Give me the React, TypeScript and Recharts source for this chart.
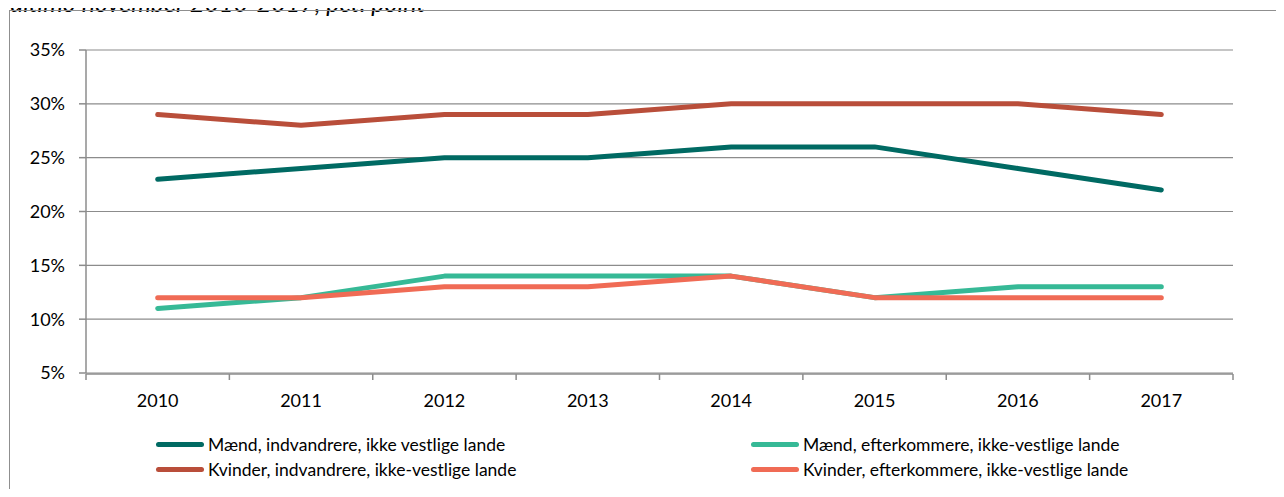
import React from 'react';
import { LineChart, Line, XAxis, YAxis, CartesianGrid } from 'recharts';

const years = ['2010', '2011', '2012', '2013', '2014', '2015', '2016', '2017'];
const maendIndv = [23, 24, 25, 25, 26, 26, 24, 22];
const kvinderIndv = [29, 28, 29, 29, 30, 30, 30, 29];
const maendEfter = [11, 12, 14, 14, 14, 12, 13, 13];
const kvinderEfter = [12, 12, 13, 13, 14, 12, 12, 12];
const yTicks = [5, 10, 15, 20, 25, 30, 35];

const series = [
  { key: 'mi', name: 'Mænd, indvandrere, ikke vestlige lande', color: '#006A63', values: maendIndv },
  { key: 'ki', name: 'Kvinder, indvandrere, ikke-vestlige lande', color: '#B94E3A', values: kvinderIndv },
  { key: 'me', name: 'Mænd, efterkommere, ikke-vestlige lande', color: '#36B996', values: maendEfter },
  { key: 'ke', name: 'Kvinder, efterkommere, ikke-vestlige lande', color: '#F06B55', values: kvinderEfter },
];

// legend is laid out two by two, rows first
const legendRows = [
  ['mi', 'me'],
  ['ki', 'ke'],
];

const data = years.map((year, i) => {
  const row: Record<string, number | string> = { idx: i, year };
  series.forEach((s) => {
    row[s.key] = s.values[i];
  });
  return row;
});

const edgeTicks = years.map((_, i) => i - 0.5).concat([years.length - 0.5]);

const FONT = 'Lato, "Open Sans", sans-serif';
const GRID = '#8c8c8c';

export default function App() {
  const byKey = Object.fromEntries(series.map((s) => [s.key, s]));
  return (
    <div
      style={{
        position: 'relative',
        width: 1284,
        height: 497,
        margin: -8,
        overflow: 'hidden',
        background: '#fff',
        fontFamily: FONT,
      }}
    >
      <div
        style={{
          position: 'absolute',
          left: 10,
          top: -9,
          fontSize: 25,
          lineHeight: '22px',
          fontStyle: 'italic',
          color: '#000',
          whiteSpace: 'nowrap',
        }}
      >
        ultimo november 2010-2017, pct. point
      </div>
      <div
        style={{
          position: 'absolute',
          left: 9,
          top: 10,
          width: 1300,
          height: 600,
          border: '1px solid #8f8f8f',
        }}
      />
      <div style={{ position: 'absolute', left: 0, top: 0 }}>
        <LineChart
          width={1284}
          height={497}
          data={data}
          margin={{ top: 50, right: 51, bottom: 122, left: 26 }}
        >
          <CartesianGrid vertical={false} stroke={GRID} strokeWidth={1.2} />
          <XAxis
            xAxisId="edge"
            dataKey="idx"
            type="number"
            domain={[-0.5, years.length - 0.5]}
            ticks={edgeTicks}
            tickFormatter={() => ''}
            height={1}
            tickSize={6}
            stroke={GRID}
            axisLine={{ stroke: GRID, strokeWidth: 1.5 }}
            tickLine={{ stroke: GRID, strokeWidth: 1.5 }}
            interval={0}
            allowDataOverflow
          />
          <XAxis
            dataKey="idx"
            type="number"
            domain={[-0.5, years.length - 0.5]}
            ticks={years.map((_, i) => i)}
            tickFormatter={(v) => years[v]}
            height={1}
            axisLine={false}
            tickLine={false}
            tickMargin={15}
            interval={0}
            tick={{ fill: '#000', fontSize: 18, fontFamily: FONT }}
            allowDataOverflow
          />
          <YAxis
            width={60}
            domain={[5, 35]}
            ticks={yTicks}
            tickFormatter={(v) => `${v}%`}
            tickSize={7}
            tickMargin={14}
            axisLine={{ stroke: GRID, strokeWidth: 1.5 }}
            tickLine={{ stroke: GRID, strokeWidth: 1.5 }}
            tick={{ fill: '#000', fontSize: 18, fontFamily: FONT }}
            interval={0}
          />
          {series.map((s) => (
            <Line
              key={s.key}
              dataKey={s.key}
              name={s.name}
              type="linear"
              stroke={s.color}
              strokeWidth={5}
              strokeLinecap="round"
              strokeLinejoin="round"
              dot={false}
              activeDot={false}
              isAnimationActive={false}
            />
          ))}
        </LineChart>
      </div>
      {legendRows.map((row, r) =>
        row.map((k, c) => {
          const s = byKey[k];
          return (
            <div
              key={k}
              style={{
                position: 'absolute',
                left: c === 0 ? 156 : 751,
                top: 444 + r * 25 - 11,
                height: 22,
                display: 'flex',
                alignItems: 'center',
                fontSize: 17.5,
                color: '#000',
                whiteSpace: 'nowrap',
              }}
            >
              <span
                style={{
                  display: 'inline-block',
                  width: 48,
                  height: 5,
                  borderRadius: 3,
                  background: s.color,
                  marginRight: 4,
                }}
              />
              {s.name}
            </div>
          );
        })
      )}
    </div>
  );
}
